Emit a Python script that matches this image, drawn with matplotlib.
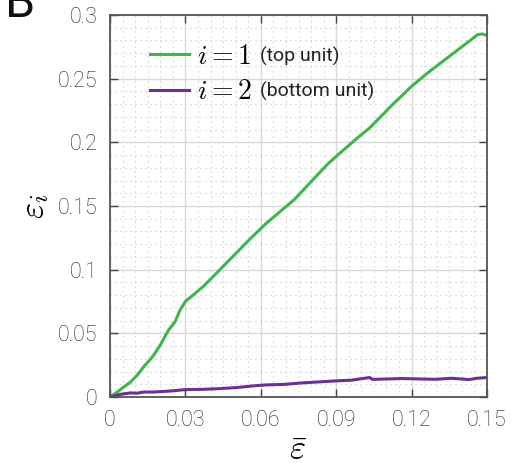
import matplotlib
matplotlib.use("Agg")
import matplotlib.pyplot as plt
from matplotlib.ticker import MultipleLocator, FixedLocator
from matplotlib.lines import Line2D

plt.rcParams['font.family'] = ['Roboto', 'DejaVu Sans']
plt.rcParams['mathtext.fontset'] = 'cm'

# Data
x_top = [0, 0.0029, 0.0055, 0.0082, 0.0108, 0.0134, 0.016, 0.0174, 0.02, 0.0233,
         0.0259, 0.0279, 0.03, 0.0332, 0.0371, 0.0411, 0.045, 0.0503, 0.0555,
         0.0621, 0.0733, 0.0864, 0.09, 0.0981, 0.1033, 0.1124, 0.12, 0.1268,
         0.1307, 0.1385, 0.1437, 0.1463, 0.1483, 0.15]
y_top = [0, 0.0039, 0.0079, 0.0118, 0.0171, 0.0237, 0.0295, 0.0329, 0.0408, 0.0526,
         0.0592, 0.0684, 0.075, 0.0803, 0.0868, 0.0947, 0.1026, 0.1132, 0.1237,
         0.1363, 0.155, 0.1825, 0.189, 0.2029, 0.2113, 0.2296, 0.244, 0.2552,
         0.261, 0.2728, 0.2806, 0.2846, 0.2851, 0.2838]

x_bot = [0, 0.0042, 0.0082, 0.0108, 0.0134, 0.0174, 0.024, 0.03, 0.037, 0.0437,
         0.0503, 0.0568, 0.062, 0.0693, 0.076, 0.0893, 0.096, 0.1033, 0.1045,
         0.116, 0.1293, 0.136, 0.1427, 0.146, 0.15]
y_bot = [0, 0.0021, 0.0032, 0.0030, 0.0039, 0.0039, 0.0047, 0.0058, 0.006, 0.0066,
         0.0074, 0.0087, 0.0095, 0.0099, 0.011, 0.0126, 0.0132, 0.0153, 0.0138,
         0.0145, 0.0139, 0.0147, 0.0137, 0.0147, 0.0153]

x_ticks = [0, 0.03, 0.06, 0.09, 0.12, 0.15]
x_ticklabels = ['0', '0.03', '0.06', '0.09', '0.12', '0.15']
y_ticks = [0, 0.05, 0.1, 0.15, 0.2, 0.25, 0.3]
y_ticklabels = ['0', '0.05', '0.1', '0.15', '0.2', '0.25', '0.3']
legend_math = [r'$i=1$', r'$i=2$']
legend_note = ['(top unit)', '(bottom unit)']

green = '#3fb64b'
purple = '#6b2f96'

fig = plt.figure(figsize=(5.28, 4.65), dpi=100)
ax = fig.add_axes([110/528, 1-397/465, 377/528, 382/465])

ax.plot(x_top, y_top, color=green, lw=2.2)
ax.plot(x_bot, y_bot, color=purple, lw=2.2)

ax.set_xlim(0, 0.15)
ax.set_ylim(0, 0.3)
ax.xaxis.set_major_locator(FixedLocator(x_ticks))
ax.yaxis.set_major_locator(FixedLocator(y_ticks))
ax.set_xticklabels(x_ticklabels)
ax.set_yticklabels(y_ticklabels)
ax.xaxis.set_minor_locator(MultipleLocator(0.005))
ax.yaxis.set_minor_locator(MultipleLocator(0.01))

ax.grid(which='major', color='#d9d9d9', lw=1.0, ls='-')
ax.grid(which='minor', color='#c4c4c4', lw=0.8, ls=(0, (1, 3.5)))
ax.set_axisbelow(True)

ax.tick_params(which='major', direction='in', length=6, width=1, color='#444444',
               top=True, right=True, labelsize=15.5, labelcolor='#222222', pad=9)
ax.tick_params(which='minor', length=0, top=True, right=True)
for lab in ax.get_xticklabels() + ax.get_yticklabels():
    lab.set_fontweight('light')
for s in ax.spines.values():
    s.set_color('#555555')
    s.set_linewidth(1.3)

ax.set_xlabel(r'$\bar{\varepsilon}$', fontsize=25, labelpad=2)
ax.set_ylabel(r'$\varepsilon_i$', fontsize=25, labelpad=5)

handles = [Line2D([], [], color=green, lw=2.2), Line2D([], [], color=purple, lw=2.2)]
leg = fig.legend(handles, legend_math, loc='upper left',
                 bbox_to_anchor=(150/528, 1 - 43/465), frameon=False,
                 borderpad=0, borderaxespad=0, handlelength=1.4, handletextpad=0.3,
                 labelspacing=0.3, fontsize=20)
fig.canvas.draw()
r = fig.canvas.get_renderer()
for t, note in zip(leg.get_texts(), legend_note):
    bb = t.get_window_extent(r)
    yc = (bb.y0 + bb.y1) / 2 / fig.bbox.height
    fig.text(260/528, yc, note, fontsize=14, va='center', ha='left',
             color='#222222')

fig.text(0.01, 1 - 17/465, 'B', fontsize=35, va='baseline', ha='left',
         color='#111111')

fig.savefig('out.png', dpi=100)
